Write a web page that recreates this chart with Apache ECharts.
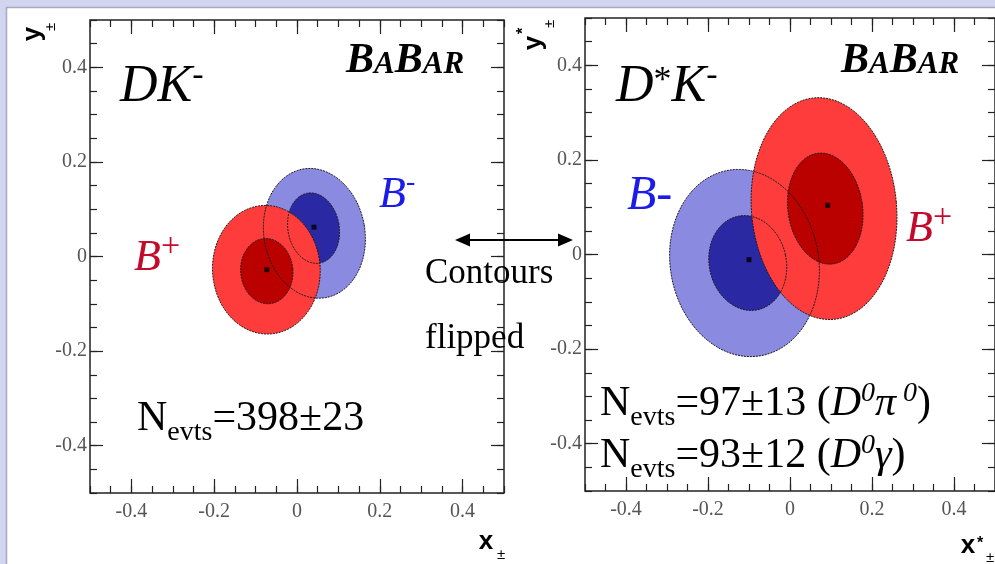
<!DOCTYPE html>
<html>
<head>
<meta charset="utf-8">
<script src="https://cdn.jsdelivr.net/npm/echarts@6/dist/echarts.min.js"></script>
<style>
  html, body { margin: 0; padding: 0; background: #fff; }
  #chart { width: 995px; height: 564px; }
</style>
</head>
<body>
<div id="chart"></div>
<script>
// Tick values shared by both panels
const xTicks = [-0.4, -0.2, 0, 0.2, 0.4];
const yTicks = [-0.4, -0.2, 0, 0.2, 0.4];

// Best-fit points (x, y) for each charge, D K- (left) and D* K- (right)
const dkBminusBest = [0.041, 0.062];
const dkBplusBest  = [-0.073, -0.028];
const dsBminusBest = [-0.100, -0.011];
const dsBplusBest  = [0.092, 0.104];

// Confidence contours: [centre x, centre y, half-width x, half-height y, tilt deg]
// first entry = outer (2 sigma) region, second = inner (1 sigma) region
const dkBminusContours = [[0.042, 0.049, 0.122, 0.138, 10], [0.040, 0.060, 0.062, 0.075, 10]];
const dkBplusContours  = [[-0.074, -0.028, 0.130, 0.136, 3], [-0.073, -0.031, 0.063, 0.069, 5]];
const dsBminusContours = [[-0.111, -0.018, 0.181, 0.199, 10], [-0.103, -0.018, 0.094, 0.101, 12]];
const dsBplusContours  = [[0.083, 0.097, 0.177, 0.235, 5], [0.086, 0.097, 0.091, 0.118, 8]];

// Fill colours: blue outer, blue inner, red outer, red inner
const regionColors = ['#8a8ae0', '#2a28a2', '#ff3c3c', '#bb0000'];

const serif = "'Liberation Serif', 'Times New Roman', serif";
const sans = "'Liberation Sans', Arial, sans-serif";

function contourData(bminus, bplus) {
  // draw order: B- outer, B- inner, B+ outer, B+ inner (B+ painted over B-)
  return [
    bminus[0].concat([0]), bminus[1].concat([1]),
    bplus[0].concat([2]), bplus[1].concat([3])
  ];
}

function ellipseRenderer(filled) {
  return function (params, api) {
    const c = api.coord([api.value(0), api.value(1)]);
    const sx = api.size([api.value(2), 0])[0];
    const sy = api.size([0, api.value(3)])[1];
    const th = api.value(4) * Math.PI / 180;
    const pts = [];
    const n = 160;
    for (let i = 0; i < n; i++) {
      const t = i / n * 2 * Math.PI;
      const u = sx * Math.cos(t), v = sy * Math.sin(t);
      pts.push([c[0] + u * Math.cos(th) - v * Math.sin(th),
                c[1] - (u * Math.sin(th) + v * Math.cos(th))]);
    }
    return {
      type: 'polygon',
      shape: { points: pts },
      style: filled
        ? { fill: regionColors[api.value(5)], stroke: null }
        : { fill: null, stroke: '#1a1a1a', lineWidth: 1, lineDash: [2, 1] }
    };
  };
}

const tickLine = { color: '#222', width: 1.2 };
const fmt = v => String(Math.round(v * 100) / 100);
const noLine = { show: false, onZero: false };

function xAxesFor(g) {
  const base = { type: 'value', gridIndex: g, min: -0.5, max: 0.5,
                 axisLine: noLine, splitLine: { show: false } };
  return [
    Object.assign({}, base, { position: 'bottom',
      axisTick: { inside: true, length: 14, customValues: xTicks, lineStyle: tickLine },
      axisLabel: { customValues: xTicks, formatter: fmt, color: '#555', fontFamily: serif, fontSize: 20, margin: 9 } }),
    Object.assign({}, base, { position: 'bottom', interval: 0.05,
      axisTick: { inside: true, length: 7, lineStyle: tickLine }, axisLabel: { show: false } }),
    Object.assign({}, base, { position: 'top',
      axisTick: { inside: true, length: 14, customValues: xTicks, lineStyle: tickLine }, axisLabel: { show: false } }),
    Object.assign({}, base, { position: 'top', interval: 0.05,
      axisTick: { inside: true, length: 7, lineStyle: tickLine }, axisLabel: { show: false } })
  ];
}
function yAxesFor(g) {
  const base = { type: 'value', gridIndex: g, min: -0.5, max: 0.5,
                 axisLine: noLine, splitLine: { show: false } };
  return [
    Object.assign({}, base, { position: 'left',
      axisTick: { inside: true, length: 13, customValues: yTicks, lineStyle: tickLine },
      axisLabel: { customValues: yTicks, formatter: fmt, color: '#555', fontFamily: serif, fontSize: 20, margin: 3 } }),
    Object.assign({}, base, { position: 'left', interval: 0.05,
      axisTick: { inside: true, length: 7, lineStyle: tickLine }, axisLabel: { show: false } }),
    Object.assign({}, base, { position: 'right',
      axisTick: { inside: true, length: 13, customValues: yTicks, lineStyle: tickLine }, axisLabel: { show: false } }),
    Object.assign({}, base, { position: 'right', interval: 0.05,
      axisTick: { inside: true, length: 7, lineStyle: tickLine }, axisLabel: { show: false } })
  ];
}

function panelSeries(axisIdx, bminus, bplus, best) {
  const data = contourData(bminus, bplus);
  return [
    { type: 'custom', xAxisIndex: axisIdx, yAxisIndex: axisIdx, renderItem: ellipseRenderer(true),
      data: data, z: 2, silent: true, clip: false },
    { type: 'custom', xAxisIndex: axisIdx, yAxisIndex: axisIdx, renderItem: ellipseRenderer(false),
      data: data, z: 3, silent: true, clip: false },
    { type: 'scatter', xAxisIndex: axisIdx, yAxisIndex: axisIdx, data: best, symbol: 'rect',
      symbolSize: 5, itemStyle: { color: '#000' }, z: 4, silent: true }
  ];
}

// Rich text styles for the annotations
const rich = {
  it52: { fontFamily: serif, fontStyle: 'italic', fontSize: 52, lineHeight: 52, verticalAlign: 'bottom' },
  sup34: { fontFamily: serif, fontSize: 34, lineHeight: 34, padding: [0, 0, 20, 0], verticalAlign: 'bottom' },
  star36: { fontFamily: serif, fontSize: 36, lineHeight: 36, padding: [0, 0, 14, 0], verticalAlign: 'bottom' },
  bb: { fontFamily: serif, fontStyle: 'italic', fontWeight: 'bold', fontSize: 42, lineHeight: 42, verticalAlign: 'bottom' },
  bs: { fontFamily: serif, fontStyle: 'italic', fontWeight: 'bold', fontSize: 31, lineHeight: 31, padding: [0, 0, 2, 0], verticalAlign: 'bottom' },
  it44: { fontFamily: serif, fontStyle: 'italic', fontSize: 44, lineHeight: 44, verticalAlign: 'bottom' },
  it48: { fontFamily: serif, fontStyle: 'italic', fontSize: 48, lineHeight: 48, verticalAlign: 'bottom' },
  sup28: { fontFamily: serif, fontSize: 28, lineHeight: 28, padding: [0, 0, 20, 0], verticalAlign: 'bottom' },
  plus34: { fontFamily: serif, fontSize: 34, lineHeight: 34, padding: [0, 0, 16, 0], verticalAlign: 'bottom' },
  r35: { fontFamily: serif, fontSize: 35, lineHeight: 35, verticalAlign: 'bottom' },
  r42: { fontFamily: serif, fontSize: 42, lineHeight: 42, padding: [0, 0, 7, 0], verticalAlign: 'bottom' },
  i42: { fontFamily: serif, fontStyle: 'italic', fontSize: 42, lineHeight: 42, padding: [0, 0, 7, 0], verticalAlign: 'bottom' },
  sub28: { fontFamily: serif, fontSize: 28, lineHeight: 28, verticalAlign: 'bottom' },
  isup28: { fontFamily: serif, fontStyle: 'italic', fontSize: 28, lineHeight: 28, padding: [0, 0, 24, 0], verticalAlign: 'bottom' }
};

function richText(x, bottom, tokens, fill) {
  return {
    type: 'text', x: x, y: bottom, z: 100, silent: true,
    style: {
      text: tokens.map(t => '{' + t[0] + '|' + t[1] + '}').join(''),
      rich: rich, fill: fill || '#000', align: 'left', verticalAlign: 'bottom'
    }
  };
}
function glyph(x, y, text, font, rotation) {
  return {
    type: 'text', x: x, y: y, z: 100, silent: true, rotation: rotation || 0,
    style: Object.assign({ text: text, fill: '#000', align: 'center', verticalAlign: 'middle' }, font)
  };
}

const blueText = '#1c1ce8';
const redText = '#c40a2c';
const bold26 = { fontFamily: sans, fontWeight: 'bold', fontSize: 26 };
const small15 = { fontFamily: sans, fontSize: 15 };
const small16b = { fontFamily: sans, fontWeight: 'bold', fontSize: 16 };
const R = Math.PI / 2;

const graphics = [
  // page frame
  { type: 'rect', shape: { x: 0, y: 0, width: 995, height: 7 }, style: { fill: '#d2d5f0' }, z: -5, silent: true },
  { type: 'rect', shape: { x: 0, y: 0, width: 6, height: 564 }, style: { fill: '#d2d5f0' }, z: -5, silent: true },
  { type: 'polyline', shape: { points: [[6.5, 564], [6.5, 7.5], [995, 7.5]] }, style: { stroke: '#a6a9bf', lineWidth: 1.5, fill: null }, z: -4, silent: true },

  // panel titles
  richText(120, 113.5, [['it52', 'DK'], ['sup34', '-']]),
  richText(616, 113.5, [['it52', 'D'], ['star36', '*'], ['it52', 'K'], ['sup34', '-']]),
  richText(346, 82, [['bb', 'B'], ['bs', 'A'], ['bb', 'B'], ['bs', 'AR']]),
  richText(841, 82, [['bb', 'B'], ['bs', 'A'], ['bb', 'B'], ['bs', 'AR']]),

  // charge labels
  richText(379, 217, [['it44', 'B'], ['sup28', '-']], blueText),
  richText(134, 280, [['it44', 'B'], ['plus34', '+']], redText),
  richText(627, 220, [['it48', 'B-']], blueText),
  richText(906, 251, [['it44', 'B'], ['plus34', '+']], redText),

  // flip annotation
  richText(425, 291, [['r35', 'Contours']]),
  richText(425, 356, [['r35', 'flipped']]),
  { type: 'line', shape: { x1: 466, y1: 240, x2: 562, y2: 240 }, style: { stroke: '#000', lineWidth: 2 }, z: 100, silent: true },
  { type: 'polygon', shape: { points: [[455, 240], [470, 233.5], [470, 246.5]] }, style: { fill: '#000' }, z: 100, silent: true },
  { type: 'polygon', shape: { points: [[573, 240], [558, 233.5], [558, 246.5]] }, style: { fill: '#000' }, z: 100, silent: true },

  // event yields
  richText(137, 447, [['r42', 'N'], ['sub28', 'evts'], ['r42', '=398±23']]),
  richText(600, 432, [['r42', 'N'], ['sub28', 'evts'], ['r42', '=97±13 ('], ['i42', 'D'], ['isup28', '0'], ['i42', 'π'], ['isup28', ' 0'], ['r42', ')']]),
  richText(600, 484, [['r42', 'N'], ['sub28', 'evts'], ['r42', '=93±12 ('], ['i42', 'D'], ['isup28', '0'], ['i42', 'γ'], ['r42', ')']]),

  // axis titles
  glyph(486, 542, 'x', bold26),
  glyph(501, 555, '±', small15),
  glyph(968, 546, 'x', bold26),
  glyph(980, 544, '*', small16b),
  glyph(990, 558, '±', small15),
  glyph(33, 34, 'y', bold26, R),
  glyph(51, 27, '±', small15, R),
  glyph(534, 43, 'y', bold26, R),
  glyph(524, 31, '*', small16b, R),
  glyph(550, 24, '±', small15, R)
];

const chart = echarts.init(document.getElementById('chart'), null, { renderer: 'canvas' });
chart.setOption({
  backgroundColor: '#ffffff',
  animation: false,
  grid: [
    { left: 90, top: 20, width: 414, height: 473, show: true, borderColor: '#222', borderWidth: 1.5, backgroundColor: 'transparent' },
    { left: 585, top: 18, width: 412, height: 473, show: true, borderColor: '#222', borderWidth: 1.5, backgroundColor: 'transparent' }
  ],
  xAxis: xAxesFor(0).concat(xAxesFor(1)),
  yAxis: yAxesFor(0).concat(yAxesFor(1)),
  series: [].concat(
    panelSeries(0, dkBminusContours, dkBplusContours, [dkBminusBest, dkBplusBest]),
    panelSeries(4, dsBminusContours, dsBplusContours, [dsBminusBest, dsBplusBest])
  ),
  graphic: { elements: graphics }
});
</script>
</body>
</html>
